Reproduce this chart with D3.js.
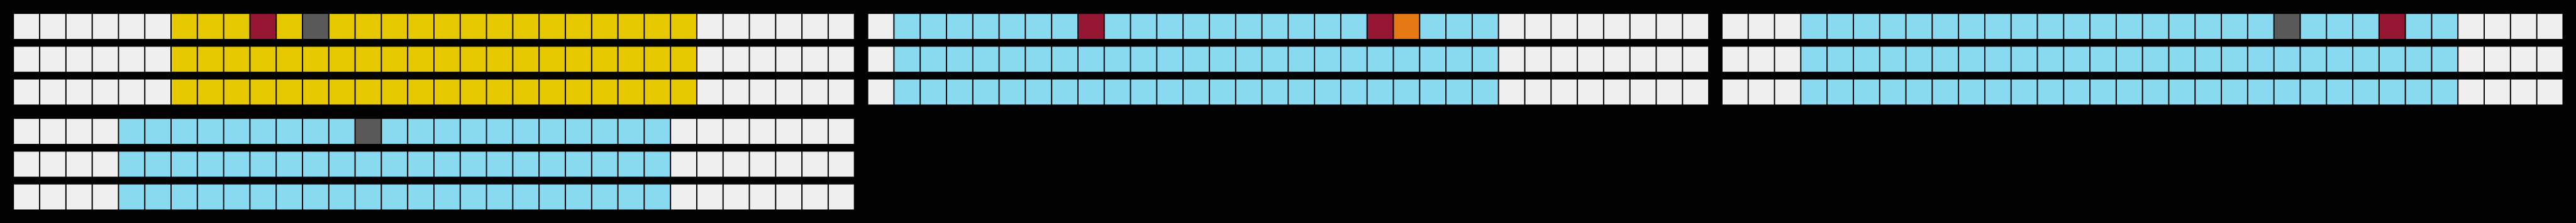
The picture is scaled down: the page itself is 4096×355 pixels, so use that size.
<!DOCTYPE html>
<html>
<head>
<meta charset="utf-8">
<script src="https://cdn.jsdelivr.net/npm/d3@7"></script>
<style>
  html, body { margin: 0; padding: 0; background: #020203; overflow: hidden; }
  svg { display: block; }
</style>
</head>
<body>
<script>
// Cell states: 0 = empty, 1 = filled (panel colour), 2 = red, 3 = grey, 4 = orange
const categories = ["empty", "filled", "red", "grey", "orange"];
const panelFillColors = ["#e6c800", "#89d9f1", "#89d9f1", "#89d9f1"];
const stateColors = ["#efefef", null, "#941632", "#595959", "#e67814"];

const panel1Rows = [
  [0,0,0,0,0,0,1,1,1,2,1,3,1,1,1,1,1,1,1,1,1,1,1,1,1,1,0,0,0,0,0,0],
  [0,0,0,0,0,0,1,1,1,1,1,1,1,1,1,1,1,1,1,1,1,1,1,1,1,1,0,0,0,0,0,0],
  [0,0,0,0,0,0,1,1,1,1,1,1,1,1,1,1,1,1,1,1,1,1,1,1,1,1,0,0,0,0,0,0]
];
const panel2Rows = [
  [0,1,1,1,1,1,1,1,2,1,1,1,1,1,1,1,1,1,1,2,4,1,1,1,0,0,0,0,0,0,0,0],
  [0,1,1,1,1,1,1,1,1,1,1,1,1,1,1,1,1,1,1,1,1,1,1,1,0,0,0,0,0,0,0,0],
  [0,1,1,1,1,1,1,1,1,1,1,1,1,1,1,1,1,1,1,1,1,1,1,1,0,0,0,0,0,0,0,0]
];
const panel3Rows = [
  [0,0,0,1,1,1,1,1,1,1,1,1,1,1,1,1,1,1,1,1,1,3,1,1,1,2,1,1,0,0,0,0],
  [0,0,0,1,1,1,1,1,1,1,1,1,1,1,1,1,1,1,1,1,1,1,1,1,1,1,1,1,0,0,0,0],
  [0,0,0,1,1,1,1,1,1,1,1,1,1,1,1,1,1,1,1,1,1,1,1,1,1,1,1,1,0,0,0,0]
];
const panel4Rows = [
  [0,0,0,0,1,1,1,1,1,1,1,1,1,3,1,1,1,1,1,1,1,1,1,1,1,0,0,0,0,0,0,0],
  [0,0,0,0,1,1,1,1,1,1,1,1,1,1,1,1,1,1,1,1,1,1,1,1,1,0,0,0,0,0,0,0],
  [0,0,0,0,1,1,1,1,1,1,1,1,1,1,1,1,1,1,1,1,1,1,1,1,1,0,0,0,0,0,0,0]
];
const panels = [panel1Rows, panel2Rows, panel3Rows, panel4Rows];

// Reference-size layout, scaled down via viewBox
const W = 6272, H = 544;
const margin = 32, panelGap = 32;
const nCols = 32, nRows = 3;
const panelW = 2048, panelH = 224;

const svg = d3.select("body").append("svg")
  .attr("width", 4096).attr("height", 355)
  .attr("viewBox", `0 0 ${W} ${H}`)
  .attr("preserveAspectRatio", "none");

svg.append("rect").attr("width", W).attr("height", H).attr("fill", "#020203");

const panelX = d3.scaleBand().domain([0, 1, 2])
  .range([margin, W - margin]).paddingInner(panelGap / (panelW + panelGap));
const panelY = d3.scaleBand().domain([0, 1])
  .range([margin, H - margin]).paddingInner(panelGap / (panelH + panelGap));

const x = d3.scaleBand().domain(d3.range(nCols)).range([0, panelW]);
const y = d3.scaleBand().domain(d3.range(nRows)).range([0, panelH]).paddingInner(0.2);

panels.forEach((rows, p) => {
  const g = svg.append("g")
    .attr("transform", `translate(${panelX(p % 3)},${panelY(Math.floor(p / 3))})`);
  const cells = [];
  rows.forEach((row, r) => row.forEach((v, c) => cells.push({ r, c, v })));
  g.selectAll("rect.cell").data(cells).join("rect")
    .attr("class", "cell")
    .attr("x", d => x(d.c) + 2)
    .attr("y", d => y(d.r) + 2)
    .attr("width", x.bandwidth() - 3)
    .attr("height", y.bandwidth() - 3)
    .attr("fill", d => d.v === 1 ? panelFillColors[p] : stateColors[d.v]);
});
</script>
</body>
</html>
